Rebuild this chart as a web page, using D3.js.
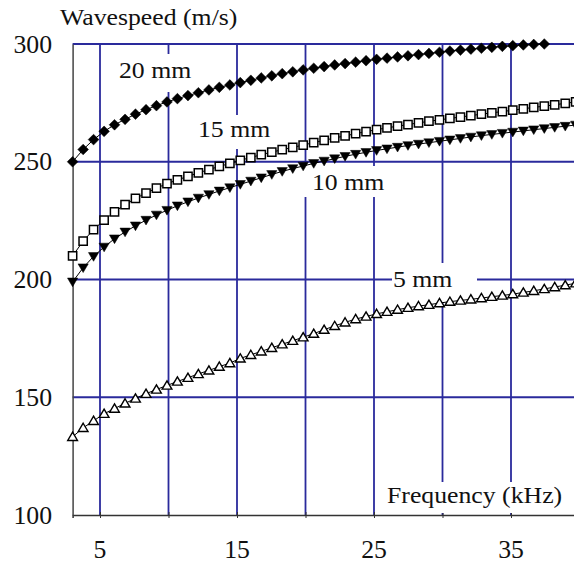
<!DOCTYPE html>
<html><head><meta charset="utf-8">
<script src="https://cdn.jsdelivr.net/npm/d3@7"></script>
<style>html,body{margin:0;padding:0;background:#fff;}svg{display:block;}
svg text{font-family:"Liberation Serif","Nimbus Roman","FreeSerif","Tinos","Times New Roman",serif !important;}</style>
</head><body>
<svg id="chart" width="574" height="564" font-family="Liberation Serif"></svg>
<script>
// ---- data ----
const frequency = [3.00,3.77,4.53,5.30,6.06,6.83,7.59,8.36,9.12,9.89,10.65,11.42,12.18,12.95,13.71,14.48,15.24,16.01,16.77,17.54,18.30,19.07,19.83,20.60,21.36,22.13,22.89,23.66,24.42,25.19,25.95,26.72,27.48,28.25,29.01,29.78,30.54,31.31,32.07,32.84,33.60,34.37,35.13,35.90,36.66,37.43,38.19,38.96,39.72];
const speed20 = [250.0,255.2,259.4,262.9,265.7,268.0,270.2,272.1,273.8,275.4,276.8,278.1,279.3,280.5,281.6,282.6,283.6,284.6,285.6,286.5,287.4,288.2,289.0,289.7,290.4,291.1,291.7,292.3,292.9,293.5,294.0,294.5,295.0,295.5,296.0,296.5,297.0,297.4,297.8,298.2,298.6,299.0,299.3,299.6,299.8,300.0];
const speed15 = [210.0,216.3,221.2,225.2,228.7,231.8,234.4,236.7,238.8,240.7,242.3,243.8,245.3,246.7,248.0,249.3,250.6,251.8,253.0,254.1,255.1,256.1,257.1,258.1,259.1,260.1,261.0,261.9,262.8,263.6,264.4,265.1,265.8,266.5,267.2,267.8,268.4,269.0,269.6,270.2,270.8,271.3,271.9,272.5,273.1,273.6,274.2,274.8,275.4];
const speed10 = [199.0,205.0,209.8,213.8,217.3,220.2,222.8,225.2,227.4,229.4,231.3,233.0,234.6,236.1,237.6,239.0,240.4,241.8,243.2,244.6,245.9,247.1,248.2,249.3,250.3,251.3,252.3,253.2,254.0,254.8,255.5,256.2,256.9,257.5,258.1,258.7,259.3,259.9,260.5,261.1,261.6,262.1,262.6,263.1,263.6,264.1,264.6,265.1,265.6];
const speed5 = [133.2,137.0,140.0,143.0,145.2,147.4,149.5,151.5,153.3,155.0,156.7,158.3,159.9,161.4,163.0,164.5,166.5,168.0,169.5,171.0,172.5,174.0,175.5,177.0,178.7,180.3,181.8,183.2,184.3,185.4,186.3,187.2,188.0,188.7,189.3,190.0,190.6,191.1,191.6,192.1,192.7,193.2,193.8,194.5,195.2,196.0,196.8,197.6,198.4];
const seriesNames = ["20 mm","15 mm","10 mm","5 mm"];
const xTicks = [5,10,15,20,25,30,35,40];
const xTickLabels = [5,15,25,35];
const yTicks = [100,150,200,250,300];
const yTickLabels = ["100","150","200","250","300"];
const yTitle = "Wavespeed (m/s)";
const xTitle = "Frequency (kHz)";

// ---- layout ----
const svg = d3.select("#chart");
const x = d3.scaleLinear().domain([3,40]).range([72.6,579.5]);
const y = d3.scaleLinear().domain([100,300]).range([515,44]);
const gridColor = "#2a2a9c";
const textLayer = [];
function addText(str, tx, ty, size, anchor, sx){ textLayer.push({str, tx, ty, size, anchor, sx}); }

// grid
const grid = svg.append("g");
grid.selectAll("line.v").data(xTicks).join("line")
  .attr("x1",d=>x(d)).attr("x2",d=>x(d)).attr("y1",y(300)).attr("y2",y(100))
  .attr("stroke",gridColor).attr("stroke-width",1.8);
grid.selectAll("line.h").data(yTicks.filter(d=>d>100)).join("line")
  .attr("x1",x(3)).attr("x2",x(40)).attr("y1",d=>y(d)).attr("y2",d=>y(d))
  .attr("stroke",gridColor).attr("stroke-width",1.8);

// axes
const xAxis = d3.axisBottom(x).tickValues(xTicks).tickSize(3).tickFormat("");
const gx = svg.append("g").attr("transform",`translate(0,${y(100)})`).call(xAxis);
gx.attr("font-family",null).attr("font-size",null);
gx.select(".domain").attr("stroke","#333").attr("stroke-width",1.5);
gx.selectAll(".tick line").attr("stroke","#333").attr("y1",-3);
gx.selectAll(".tick text").remove();
const yAxis = d3.axisLeft(y).tickValues(yTicks).tickSize(0).tickFormat("");
const gy = svg.append("g").attr("transform",`translate(${x(3)},0)`).call(yAxis);
gy.attr("font-family",null).attr("font-size",null);
gy.select(".domain").attr("stroke","#444").attr("stroke-width",1.5);
gy.selectAll(".tick text").remove();

// label backgrounds (white boxes that hide the grid)
const boxes = [[112,54,88,38],[190,115,88,34],[304,166,84,31],[392,263,85,39],[380,482,194,31]];
svg.append("g").selectAll("rect").data(boxes).join("rect")
  .attr("x",d=>d[0]).attr("y",d=>d[1]).attr("width",d=>d[2]).attr("height",d=>d[3]).attr("fill","#fff");

// series
const series = [speed20, speed15, speed10, speed5];
const line = d3.line().x((d,i)=>x(frequency[i])).y(d=>y(d));
svg.append("g").selectAll("path").data(series).join("path")
  .attr("d",d=>line(d)).attr("fill","none").attr("stroke","#000").attr("stroke-width",1);

const diamond = {draw(c,s){const r=Math.sqrt(s)/2;c.moveTo(0,-r);c.lineTo(r,0);c.lineTo(0,r);c.lineTo(-r,0);c.closePath();}};
const triUp = {draw(c,s){const w=Math.sqrt(s)/2;c.moveTo(0,-w*0.95);c.lineTo(w,w*0.75);c.lineTo(-w,w*0.75);c.closePath();}};
const triDown = {draw(c,s){const w=Math.sqrt(s)/2;c.moveTo(0,w*0.95);c.lineTo(w,-w*0.75);c.lineTo(-w,-w*0.75);c.closePath();}};
const sq = {draw(c,s){const r=Math.sqrt(s)/2;c.rect(-r,-r,2*r,2*r);}};
const styles = [
  {type:diamond,size:115,fill:"#000",stroke:"#000",sw:0.5},
  {type:sq,size:68,fill:"#fff",stroke:"#000",sw:1.5},
  {type:triDown,size:105,fill:"#000",stroke:"#000",sw:0.5},
  {type:triUp,size:95,fill:"#fff",stroke:"#000",sw:1.4}
];
series.forEach((s,k)=>{
  const st = styles[k];
  svg.append("g").selectAll("path").data(s).join("path")
    .attr("transform",(d,i)=>`translate(${x(frequency[i])},${y(d)})`)
    .attr("d",d3.symbol().type(st.type).size(st.size))
    .attr("fill",st.fill).attr("stroke",st.stroke).attr("stroke-width",st.sw);
});

// tick labels
yTicks.forEach((v,i)=>addText(yTickLabels[i], 52, y(v)+8.5, 25, "end", 1.03));
xTickLabels.forEach(v=>addText(String(v), x(v), 558, 25, "middle", 1.03));

// titles and series labels
addText(yTitle, 60, 25, 23, "start", 1.12);
addText(xTitle, 387, 503, 23, "start", 1.12);
const labelPos = [[119,78],[198,137],[312,190],[393,287]];
seriesNames.forEach((n,i)=>addText(n, labelPos[i][0], labelPos[i][1], 23, "start", 1.12));

// draw all text (serif)
svg.append("g").attr("font-family","Liberation Serif").selectAll("text").data(textLayer).join("text")
  .attr("transform",d=>`translate(${d.tx},${d.ty}) scale(${d.sx},1)`)
  .attr("text-anchor",d=>d.anchor)
  .style("font-size",d=>d.size+"px")
  .attr("fill","#111")
  .text(d=>d.str);
</script>
</body></html>
